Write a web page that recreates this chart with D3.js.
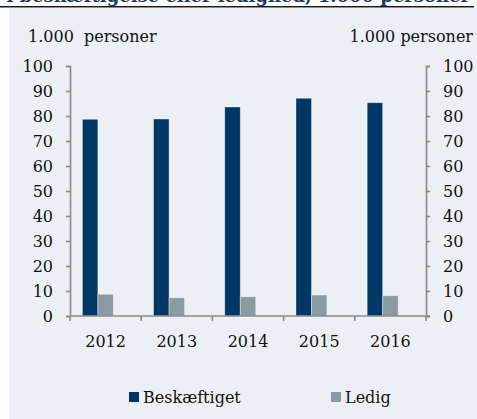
<!DOCTYPE html>
<html><head><meta charset="utf-8">
<script src="https://cdn.jsdelivr.net/npm/d3@7"></script>
<style>html,body{margin:0;padding:0;background:#fff;}svg{display:block;}</style>
</head><body>
<svg id="c" width="477" height="419"></svg>
<script>
const years = ["2012","2013","2014","2015","2016"];
const beskaeftiget = [78.7, 78.8, 83.6, 87.1, 85.3];
const ledig = [8.7, 7.3, 7.7, 8.4, 8.1];
const seriesNames = ["Beskæftiget","Ledig"];
const seriesColors = ["#003764","#8b99a1"];
const yTicks = [0,10,20,30,40,50,60,70,80,90,100];
const titleText = "Personer i beskæftigelse eller ledighed, 1.000 personer";
const unitLabel = "1.000  personer";
const unitLabelRight = "1.000 personer";

const svg = d3.select("#c");
const font = "'DejaVu Serif', serif";
const W = 477, H = 419;
const L = 70, R = 426, T = 66, B = 316;

svg.append("rect").attr("x",9).attr("y",8).attr("width",W-9).attr("height",H-8).attr("fill","#ecf0f4");
svg.append("text").attr("x",470).attr("y",2).attr("text-anchor","end")
  .attr("font-family",font).attr("font-weight","bold").attr("font-size",18)
  .attr("fill","#1b3a5c").text(titleText);
svg.append("line").attr("x1",0).attr("x2",474).attr("y1",6.8).attr("y2",6.8)
  .attr("stroke","#1a1a1a").attr("stroke-width",1.6);

const y = d3.scaleLinear().domain([0,100]).range([B,T]);
const x = d3.scaleBand().domain(years).range([L,R]).padding(0);
const inner = d3.scaleBand().domain([...seriesNames,"_"]).range([0,x.bandwidth()]).paddingInner(0).paddingOuter(0.8);

const data = [beskaeftiget, ledig];
seriesNames.forEach((s,si)=>{
  svg.append("g").selectAll("rect").data(years).join("rect")
    .attr("x",d=>x(d)+inner(s))
    .attr("y",(d,i)=>y(data[si][i]))
    .attr("width",inner.bandwidth())
    .attr("height",(d,i)=>B-y(data[si][i]))
    .attr("fill",seriesColors[si])
    .attr("stroke","rgba(255,255,255,0.45)").attr("stroke-width",0.8);
});

const axisColor = "#8a8a8a";
function styleAxis(g){
  g.selectAll("path,line").attr("stroke",axisColor).attr("stroke-width",1.6);
  g.selectAll("text").attr("font-family",font).attr("font-size",16).attr("fill","#111");
}
const yl = svg.append("g").attr("transform",`translate(${L},0)`)
  .call(d3.axisLeft(y).tickValues(yTicks).tickSize(4).tickSizeOuter(4).tickPadding(13));
styleAxis(yl);
const yr = svg.append("g").attr("transform",`translate(${R},0)`)
  .call(d3.axisRight(y).tickValues(yTicks).tickSize(4).tickSizeOuter(4).tickPadding(13));
styleAxis(yr);
yl.selectAll("text").attr("dy","0.36em");
yr.selectAll("text").attr("dy","0.36em");

// x axis with ticks at band boundaries
const xg = svg.append("g").attr("transform",`translate(0,${B})`)
  .call(d3.axisBottom(x).tickSize(0).tickPadding(20));
styleAxis(xg);
xg.select(".domain").attr("d",`M${L},0H${R+4}`);
const bounds = years.map(d=>x(d)).concat([R]);
xg.selectAll(".bt").data(bounds).join("line").attr("class","bt")
  .attr("x1",d=>d).attr("x2",d=>d).attr("y1",0).attr("y2",5)
  .attr("stroke",axisColor).attr("stroke-width",1.6);

svg.append("text").attr("x",28).attr("y",42).attr("font-family",font).attr("font-size",16)
  .attr("fill","#111").style("white-space","pre").attr("xml:space","preserve").text(unitLabel);
svg.append("text").attr("x",473).attr("y",42).attr("text-anchor","end").attr("font-family",font).attr("font-size",16)
  .attr("fill","#111").text(unitLabelRight);

// legend
const legX = [129, 331];
seriesNames.forEach((s,i)=>{
  svg.append("rect").attr("x",legX[i]).attr("y",392).attr("width",10).attr("height",10).attr("fill",seriesColors[i]);
  svg.append("text").attr("x",legX[i]+14).attr("y",403).attr("font-family",font).attr("font-size",16)
    .attr("fill","#111").text(s);
});
</script>
</body></html>
